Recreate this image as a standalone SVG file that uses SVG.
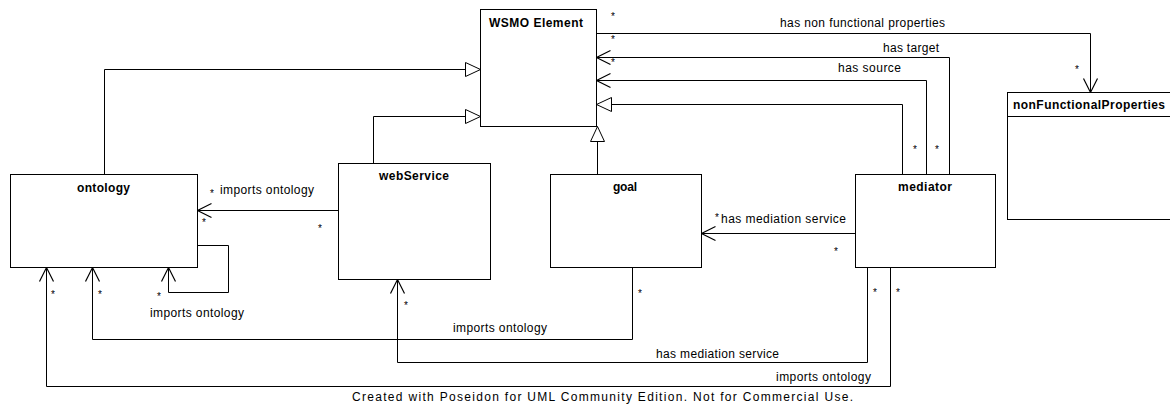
<svg xmlns="http://www.w3.org/2000/svg" width="1170" height="408" viewBox="0 0 1170 408">
<style>
.box{fill:#fff;stroke:#000;stroke-width:1}
.ln{fill:none;stroke:#000;stroke-width:1}
.t{font-family:"Liberation Sans",Arial,sans-serif;font-size:12px;fill:#000}
.s{font-family:"Liberation Sans",Arial,sans-serif;font-size:10px;fill:#000}
.b{font-family:"Liberation Sans",Arial,sans-serif;font-size:12px;font-weight:bold;fill:#000}
.gen{marker-end:url(#tri)}
.nav{marker-end:url(#open)}
</style>
<defs>
<marker id="open" markerUnits="userSpaceOnUse" markerWidth="20" markerHeight="20" refX="0" refY="0" viewBox="-16 -10 20 20" orient="auto" overflow="visible">
<path d="M-14,-7 L0,0 L-14,7" fill="none" stroke="#000" stroke-width="1.2"/>
</marker>
<marker id="tri" markerUnits="userSpaceOnUse" markerWidth="20" markerHeight="20" refX="0" refY="0" viewBox="-16 -10 20 20" orient="auto" overflow="visible">
<path d="M0,0 L-15,-7 L-15,7 Z" fill="#fff" stroke="#000" stroke-width="1"/>
</marker>
</defs>
<rect width="1170" height="408" fill="#fff"/>

<g id="connectors" transform="translate(0.5,0.5)">
<polyline class="ln gen" points="104,174 104,69 480,69"/>
<polyline class="ln gen" points="373,163 373,116 480,116"/>
<polyline class="ln gen" points="597,174 597,126"/>
<polyline class="ln gen" points="902,174 902,104 596,104"/>
<polyline class="ln nav" points="926,174 926,80 596,80"/>
<polyline class="ln nav" points="949,174 949,57 596,57"/>
<polyline class="ln nav" points="596,33 1090,33 1090,92"/>
<polyline class="ln nav" points="339,210 197,210"/>
<polyline class="ln nav" points="197,245 228,245 228,292 168,292 168,267"/>
<polyline class="ln nav" points="632,267 632,339 92,339 92,267"/>
<polyline class="ln nav" points="867,267 867,362 397,362 397,279"/>
<polyline class="ln nav" points="890,267 890,386 46,386 46,267"/>
<polyline class="ln nav" points="855,233 701,233"/>
</g>

<g id="labels">
<text class="t" x="780" y="27" textLength="165" lengthAdjust="spacing">has non functional properties</text>
<text class="t" x="883" y="52" textLength="56" lengthAdjust="spacing">has target</text>
<text class="t" x="838" y="72" textLength="63" lengthAdjust="spacing">has source</text>
<text class="s" x="611" y="20">*</text>
<text class="s" x="611" y="43">*</text>
<text class="s" x="611" y="66">*</text>
<text class="s" x="1075" y="73">*</text>
<text class="s" x="913" y="153">*</text>
<text class="s" x="935" y="153">*</text>
<text class="s" x="715" y="221">*</text>
<text class="t" x="721" y="223" textLength="125" lengthAdjust="spacing">has mediation service</text>
<text class="s" x="834" y="255">*</text>
<text class="s" x="210" y="197">*</text>
<text class="t" x="220" y="194" textLength="94" lengthAdjust="spacing">imports ontology</text>
<text class="s" x="202" y="226">*</text>
<text class="s" x="318" y="232">*</text>
<text class="s" x="157" y="300">*</text>
<text class="t" x="150" y="317" textLength="94" lengthAdjust="spacing">imports ontology</text>
<text class="s" x="51" y="298">*</text>
<text class="s" x="98" y="298">*</text>
<text class="s" x="404" y="309">*</text>
<text class="s" x="638" y="297">*</text>
<text class="t" x="453" y="332" textLength="94" lengthAdjust="spacing">imports ontology</text>
<text class="s" x="873" y="296">*</text>
<text class="s" x="896" y="296">*</text>
<text class="t" x="656" y="358" textLength="123" lengthAdjust="spacing">has mediation service</text>
<text class="t" x="776" y="381" textLength="95" lengthAdjust="spacing">imports ontology</text>
<text class="t" x="352" y="401" textLength="501" lengthAdjust="spacing">Created with Poseidon for UML Community Edition. Not for Commercial Use.</text>
</g>

<g id="wsmo-element">
<rect class="box" x="480.5" y="9.5" width="116" height="117"/>
<text class="b" x="489" y="27" textLength="94" lengthAdjust="spacing">WSMO Element</text>
</g>
<g id="ontology">
<rect class="box" x="10.5" y="174.5" width="187" height="93"/>
<text class="b" x="77" y="192" textLength="53" lengthAdjust="spacing">ontology</text>
</g>
<g id="webService">
<rect class="box" x="338.5" y="163.5" width="152" height="116"/>
<text class="b" x="379" y="180" textLength="70" lengthAdjust="spacing">webService</text>
</g>
<g id="goal">
<rect class="box" x="550.5" y="174.5" width="151" height="93"/>
<text class="b" x="613" y="191" textLength="24" lengthAdjust="spacing">goal</text>
</g>
<g id="mediator">
<rect class="box" x="855.5" y="174.5" width="140" height="93"/>
<text class="b" x="898" y="191" textLength="54" lengthAdjust="spacing">mediator</text>
</g>
<g id="nonFunctionalProperties">
<rect class="box" x="1007.5" y="92.5" width="200" height="127"/>
<line class="ln" x1="1007.5" y1="116.5" x2="1207.5" y2="116.5"/>
<text class="b" x="1013" y="109" textLength="152" lengthAdjust="spacing">nonFunctionalProperties</text>
</g>
</svg>
